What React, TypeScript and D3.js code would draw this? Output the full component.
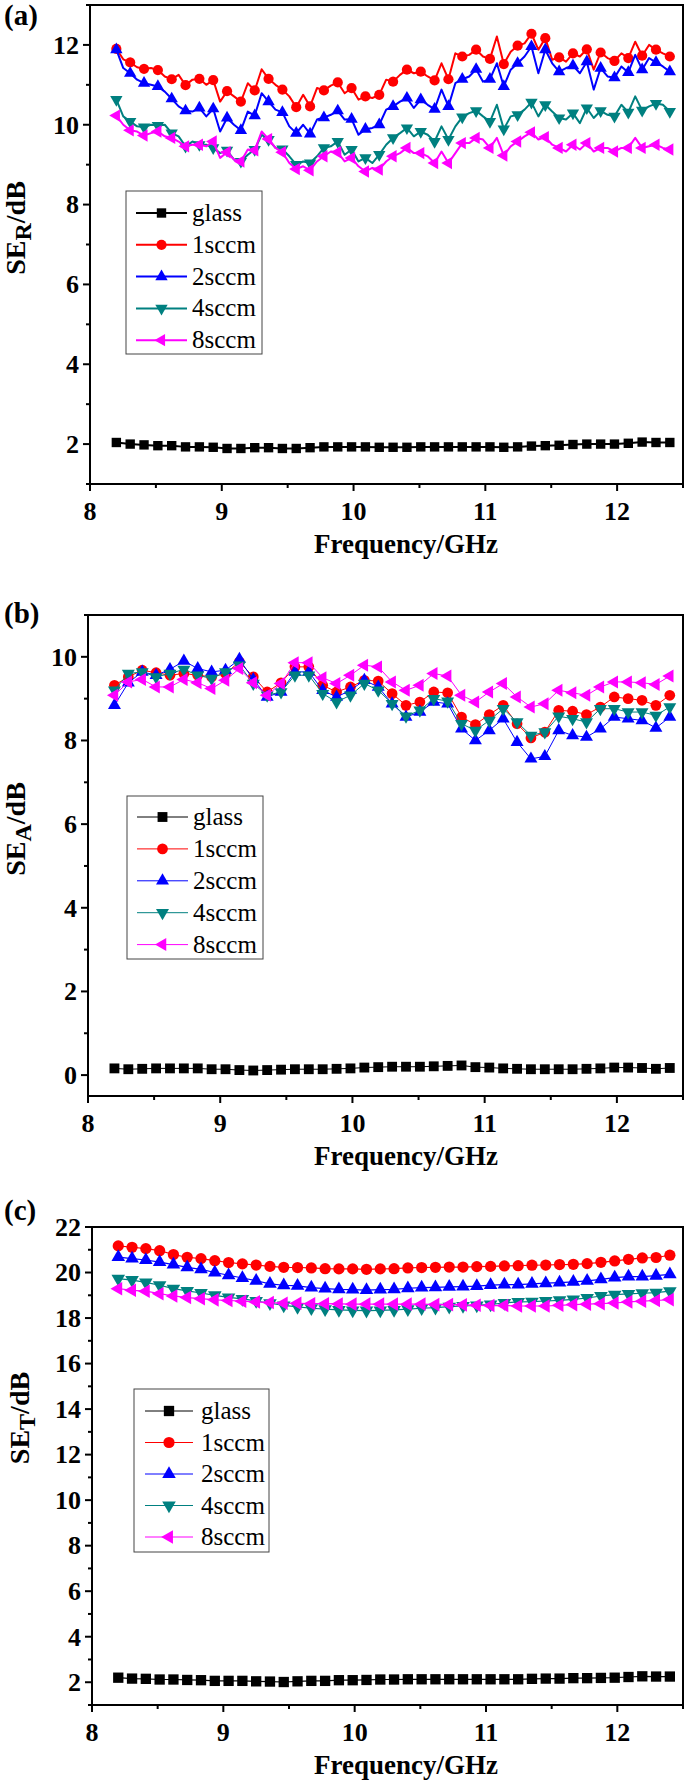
import React from 'react';
import * as d3 from 'd3';

// shared series info
const seriesNames = ['glass', '1sccm', '2sccm', '4sccm', '8sccm'];
const seriesColors = ['#000000', '#ff0000', '#0000ff', '#008080', '#ff00ff'];

// marker frequencies (GHz) and the finer grid used by the (a) lines
const freq = d3.range(41).map((i) => 8.2 + i * 0.105);
const freqFine = d3.range(81).map((i) => 8.2 + i * 0.0525);

const xMajor = [8, 9, 10, 11, 12];
const xMinor = [8.5, 9.5, 10.5, 11.5, 12.5];

// ---- (a) SE_R ----
const seRGlass = [2.04, 2.0, 1.98, 1.96, 1.96, 1.93, 1.93, 1.92, 1.89, 1.89, 1.91, 1.91, 1.89, 1.89, 1.91, 1.93, 1.93, 1.93, 1.93, 1.92, 1.92,
  1.92, 1.93, 1.93, 1.93, 1.93, 1.93, 1.93, 1.92, 1.93, 1.95, 1.96, 1.97, 1.99, 2.0, 2.0, 2.0, 2.02, 2.05, 2.04, 2.04];
const seR1 = [11.9, 11.56, 11.4, 11.37, 11.14, 10.99, 11.15, 11.12, 10.84, 10.58, 10.86, 11.15, 10.88, 10.44, 10.46, 10.86, 11.06, 10.92, 10.71, 10.75, 11.08,
  11.38, 11.33, 11.11, 11.14, 11.71, 11.88, 11.65, 11.52, 11.98, 12.28, 12.17, 11.69, 11.79, 11.89, 11.81, 11.6, 11.67, 11.73, 11.88, 11.71];
const seR1Mid = [11.64, 11.44, 11.42, 11.21, 11.25, 11.13, 11.0, 10.58, 10.71, 11.04, 11.39, 11.0, 10.71, 10.75, 10.92, 10.98, 10.79, 10.63, 10.67, 11.13,
  11.25, 11.29, 11.21, 11.54, 11.79, 11.75, 11.71, 12.21, 11.83, 12.04, 11.88, 11.63, 11.58, 11.71, 11.38, 11.67, 11.79, 12.08, 12.0, 11.79];
const seR2 = [11.88, 11.29, 11.04, 10.96, 10.65, 10.35, 10.42, 10.4, 10.17, 9.86, 10.23, 10.58, 10.31, 9.79, 9.77, 10.18, 10.35, 10.14, 9.89, 10.0, 10.46,
  10.67, 10.63, 10.39, 10.46, 11.14, 11.39, 11.14, 10.96, 11.54, 11.96, 11.88, 11.33, 11.48, 11.58, 11.42, 11.18, 11.31, 11.38, 11.56, 11.33];
const seR2Mid = [11.42, 11.13, 11.0, 10.83, 10.46, 10.33, 10.21, 9.83, 10.0, 10.33, 10.79, 10.38, 9.96, 10.0, 10.13, 10.25, 10.13, 9.75, 9.92, 10.38,
  10.58, 10.42, 10.5, 10.88, 11.04, 11.21, 11.08, 11.54, 11.38, 11.71, 11.29, 11.54, 11.42, 11.29, 10.88, 11.21, 11.46, 11.75, 11.67, 11.46];
const seR4 = [10.63, 10.08, 9.94, 9.98, 9.79, 9.46, 9.5, 9.42, 9.36, 9.08, 9.38, 9.63, 9.39, 9.0, 9.04, 9.42, 9.58, 9.38, 9.17, 9.25, 9.67,
  9.92, 9.83, 9.58, 9.63, 10.19, 10.35, 10.08, 9.89, 10.25, 10.56, 10.5, 10.17, 10.29, 10.42, 10.35, 10.21, 10.31, 10.36, 10.53, 10.33];
const seR4Mid = [10.21, 9.96, 10.0, 10.0, 9.71, 9.58, 9.5, 9.29, 9.13, 9.25, 9.75, 9.42, 9.21, 9.08, 9.21, 9.46, 9.25, 9.08, 9.04, 9.5,
  9.79, 9.71, 9.75, 9.96, 9.96, 10.29, 10.21, 10.5, 10.21, 10.38, 10.21, 10.33, 10.13, 10.04, 10.17, 10.25, 10.5, 10.71, 10.46, 10.5];
const seR8 = [10.23, 9.86, 9.73, 9.83, 9.67, 9.46, 9.5, 9.58, 9.31, 9.08, 9.36, 9.64, 9.31, 8.89, 8.86, 9.21, 9.31, 9.17, 8.83, 8.88, 9.21,
  9.42, 9.29, 9.04, 9.04, 9.54, 9.67, 9.42, 9.23, 9.58, 9.81, 9.69, 9.42, 9.5, 9.54, 9.42, 9.33, 9.42, 9.42, 9.5, 9.38];
const seR8Mid = [10.0, 9.83, 9.79, 9.71, 9.58, 9.5, 9.46, 9.17, 9.13, 9.38, 9.83, 9.42, 9.04, 8.96, 9.08, 9.33, 9.08, 8.96, 8.92, 9.08,
  9.29, 9.29, 9.21, 9.33, 9.29, 9.54, 9.63, 9.67, 9.46, 9.71, 9.63, 9.5, 9.33, 9.38, 9.33, 9.42, 9.42, 9.67, 9.46, 9.42];

// ---- (b) SE_A ----
const seAGlass = [0.16, 0.14, 0.15, 0.16, 0.16, 0.16, 0.16, 0.14, 0.14, 0.12, 0.11, 0.12, 0.13, 0.14, 0.14, 0.14, 0.15, 0.16, 0.18, 0.19, 0.2,
  0.2, 0.2, 0.21, 0.22, 0.23, 0.19, 0.18, 0.16, 0.15, 0.14, 0.14, 0.14, 0.14, 0.15, 0.16, 0.18, 0.18, 0.17, 0.15, 0.17];
const seA1 = [9.32, 9.52, 9.68, 9.62, 9.56, 9.6, 9.56, 9.52, 9.6, 9.88, 9.52, 9.16, 9.38, 9.76, 9.76, 9.32, 9.16, 9.28, 9.44, 9.42, 9.12,
  8.84, 8.92, 9.16, 9.14, 8.56, 8.38, 8.62, 8.84, 8.4, 8.06, 8.2, 8.72, 8.7, 8.62, 8.8, 9.04, 9.0, 8.96, 8.84, 9.08];
const seA2 = [8.84, 9.38, 9.64, 9.56, 9.7, 9.9, 9.72, 9.64, 9.68, 9.94, 9.46, 9.04, 9.16, 9.64, 9.64, 9.2, 9.04, 9.2, 9.44, 9.28, 8.88,
  8.56, 8.68, 8.92, 8.88, 8.28, 8.0, 8.24, 8.52, 7.96, 7.56, 7.62, 8.24, 8.12, 8.08, 8.28, 8.56, 8.52, 8.48, 8.3, 8.56];
const seA4 = [9.2, 9.6, 9.64, 9.52, 9.6, 9.7, 9.56, 9.48, 9.64, 9.8, 9.36, 9.08, 9.16, 9.56, 9.56, 9.12, 8.92, 9.08, 9.36, 9.2, 8.88,
  8.58, 8.72, 9.0, 8.94, 8.4, 8.24, 8.48, 8.76, 8.44, 8.12, 8.2, 8.58, 8.52, 8.44, 8.76, 8.76, 8.68, 8.68, 8.6, 8.8];
const seA8 = [9.08, 9.4, 9.46, 9.28, 9.28, 9.46, 9.38, 9.24, 9.44, 9.72, 9.38, 9.08, 9.36, 9.86, 9.86, 9.5, 9.36, 9.56, 9.8, 9.76, 9.4,
  9.2, 9.32, 9.6, 9.54, 9.08, 8.92, 9.16, 9.36, 9.04, 8.8, 8.88, 9.2, 9.14, 9.08, 9.28, 9.4, 9.4, 9.38, 9.34, 9.54];

// ---- (c) SE_T ----
const seTGlass = [2.2, 2.16, 2.15, 2.12, 2.12, 2.1, 2.09, 2.06, 2.06, 2.06, 2.04, 2.03, 2.01, 2.04, 2.06, 2.06, 2.09, 2.09, 2.1, 2.12, 2.12,
  2.13, 2.13, 2.13, 2.13, 2.13, 2.13, 2.13, 2.13, 2.13, 2.15, 2.16, 2.16, 2.18, 2.18, 2.19, 2.2, 2.23, 2.26, 2.25, 2.25];
const seT1 = [21.17, 21.11, 21.05, 20.96, 20.79, 20.67, 20.61, 20.52, 20.44, 20.38, 20.33, 20.27, 20.23, 20.22, 20.2, 20.17, 20.16, 20.16, 20.14, 20.16, 20.17,
  20.2, 20.22, 20.23, 20.24, 20.24, 20.26, 20.27, 20.29, 20.3, 20.32, 20.33, 20.35, 20.36, 20.39, 20.45, 20.51, 20.58, 20.64, 20.66, 20.76];
const seT2 = [20.68, 20.61, 20.55, 20.46, 20.35, 20.23, 20.14, 20.0, 19.88, 19.76, 19.64, 19.5, 19.44, 19.41, 19.34, 19.29, 19.26, 19.25, 19.23, 19.25, 19.26,
  19.31, 19.34, 19.35, 19.37, 19.38, 19.4, 19.45, 19.47, 19.47, 19.5, 19.53, 19.56, 19.59, 19.63, 19.7, 19.78, 19.82, 19.82, 19.86, 19.92];
const seT4 = [19.73, 19.67, 19.57, 19.44, 19.29, 19.19, 19.1, 19.0, 18.91, 18.84, 18.75, 18.65, 18.56, 18.49, 18.43, 18.39, 18.36, 18.34, 18.33, 18.34, 18.36,
  18.39, 18.43, 18.46, 18.5, 18.53, 18.56, 18.6, 18.66, 18.71, 18.72, 18.75, 18.78, 18.82, 18.88, 18.97, 19.03, 19.06, 19.09, 19.12, 19.18];
const seT8 = [19.29, 19.22, 19.18, 19.07, 18.97, 18.9, 18.85, 18.8, 18.77, 18.74, 18.71, 18.68, 18.65, 18.65, 18.63, 18.63, 18.62, 18.61, 18.61, 18.61, 18.61,
  18.61, 18.61, 18.59, 18.59, 18.58, 18.56, 18.55, 18.55, 18.53, 18.53, 18.53, 18.56, 18.59, 18.61, 18.63, 18.66, 18.71, 18.74, 18.77, 18.81];

// put the between-marker readings in between the marker readings
const weave = (marks, mids) => marks.flatMap((v, i) => (i < mids.length ? [v, mids[i]] : [v]));

const mk = (marks) => ({ lx: freq, ly: marks, marks });
const mkFine = (marks, mids) => ({ lx: freqFine, ly: weave(marks, mids), marks });

const panels = [
  {
    id: 'a', label: '(a)', labelY: 25, sub: 'R',
    yDomain: [1, 13], yMajor: [2, 4, 6, 8, 10, 12], yMinor: [1, 3, 5, 7, 9, 11, 13],
    left: 90, right: 683, top: 5, bottom: 484,
    lineW: 2, legendLineW: 2, mScale: 1,
    titleX: 25, titleY: 228,
    legend: { x: 126, y: 191, w: 136, h: 163, y0: 213, step: 31.8, l1: 136, l2: 187, tx: 192 },
    series: [mk(seRGlass), mkFine(seR1, seR1Mid), mkFine(seR2, seR2Mid), mkFine(seR4, seR4Mid), mkFine(seR8, seR8Mid)],
  },
  {
    id: 'b', label: '(b)', labelY: 623, sub: 'A',
    yDomain: [-0.5, 11], yMajor: [0, 2, 4, 6, 8, 10], yMinor: [1, 3, 5, 7, 9, 11],
    left: 88, right: 683, top: 615, bottom: 1096,
    lineW: 1, legendLineW: 1, mScale: 1.05,
    titleX: 25, titleY: 829,
    legend: { x: 127, y: 796, w: 136, h: 163, y0: 817, step: 31.9, l1: 137, l2: 188, tx: 193 },
    series: [mk(seAGlass), mk(seA1), mk(seA2), mk(seA4), mk(seA8)],
  },
  {
    id: 'c', label: '(c)', labelY: 1220, sub: 'T',
    yDomain: [1, 22], yMajor: [2, 4, 6, 8, 10, 12, 14, 16, 18, 20, 22], yMinor: [1, 3, 5, 7, 9, 11, 13, 15, 17, 19, 21],
    left: 92, right: 683, top: 1227, bottom: 1705,
    lineW: 1.2, legendLineW: 1, mScale: 1.1,
    titleX: 29, titleY: 1418,
    legend: { x: 134, y: 1389, w: 135, h: 163, y0: 1411, step: 31.5, l1: 145, l2: 193, tx: 201 },
    series: [mk(seTGlass), mk(seT1), mk(seT2), mk(seT4), mk(seT8)],
  },
];

const symbolTypes = [d3.symbolSquare, d3.symbolCircle, d3.symbolTriangle, d3.symbolTriangle, d3.symbolTriangle];
const symbolRot = [0, 0, 0, 180, -90];
const symbolArea = [88, 82, 66, 66, 66];

const markerD = (k, s) => d3.symbol(symbolTypes[k], symbolArea[k] * s * s)();

function Marker({ k, x, y, s }) {
  return (
    <path d={markerD(k, s)} transform={`translate(${x},${y}) rotate(${symbolRot[k]})`} fill={seriesColors[k]} />
  );
}

function Panel({ p }) {
  const x = d3.scaleLinear().domain([8, 12.5]).range([p.left, p.right]);
  const y = d3.scaleLinear().domain(p.yDomain).range([p.bottom, p.top]);
  const line = d3.line().x((d) => x(d[0])).y((d) => y(d[1]));
  const lg = p.legend;

  return (
    <g>
      {/* data */}
      {p.series.map((s, k) => (
        <g key={k}>
          <path d={line(s.lx.map((f, i) => [f, s.ly[i]]))} fill="none" stroke={seriesColors[k]} strokeWidth={p.lineW} strokeLinejoin="round" />
          {s.marks.map((v, i) => (
            <Marker key={i} k={k} x={x(freq[i])} y={y(v)} s={p.mScale} />
          ))}
        </g>
      ))}

      {/* frame */}
      <rect x={p.left} y={p.top} width={p.right - p.left} height={p.bottom - p.top} fill="none" stroke="#000" strokeWidth={2} />

      {/* x axis */}
      {xMajor.map((t) => (
        <g key={'xm' + t}>
          <line x1={x(t)} x2={x(t)} y1={p.bottom} y2={p.bottom + 7} stroke="#000" strokeWidth={2} />
          <text x={x(t)} y={p.bottom + 36} textAnchor="middle" fontSize={26} fontWeight="bold">{t}</text>
        </g>
      ))}
      {xMinor.map((t) => (
        <line key={'xn' + t} x1={x(t)} x2={x(t)} y1={p.bottom} y2={p.bottom + 4} stroke="#000" strokeWidth={2} />
      ))}
      <text x={406} y={p.bottom + 69} textAnchor="middle" fontSize={27} fontWeight="bold">Frequency/GHz</text>

      {/* y axis */}
      {p.yMajor.map((t) => (
        <g key={'ym' + t}>
          <line x1={p.left - 7} x2={p.left} y1={y(t)} y2={y(t)} stroke="#000" strokeWidth={2} />
          <text x={p.left - 11} y={y(t) + 8.8} textAnchor="end" fontSize={26} fontWeight="bold">{t}</text>
        </g>
      ))}
      {p.yMinor.map((t) => (
        <line key={'yn' + t} x1={p.left - 4} x2={p.left} y1={y(t)} y2={y(t)} stroke="#000" strokeWidth={2} />
      ))}
      <text transform={`translate(${p.titleX},${p.titleY}) rotate(-90)`} textAnchor="middle" fontSize={28} fontWeight="bold">
        <tspan>SE</tspan>
        <tspan dy={6} fontSize={24}>{p.sub}</tspan>
        <tspan dy={-6}>/dB</tspan>
      </text>

      {/* panel tag */}
      <text x={4} y={p.labelY} fontSize={29} fontWeight="bold">{p.label}</text>

      {/* legend */}
      <rect x={lg.x} y={lg.y} width={lg.w} height={lg.h} fill="#fff" stroke="#444" strokeWidth={1} />
      {seriesNames.map((name, k) => {
        const ey = lg.y0 + k * lg.step;
        return (
          <g key={name}>
            <line x1={lg.l1} x2={lg.l2} y1={ey} y2={ey} stroke={seriesColors[k]} strokeWidth={p.legendLineW} />
            <Marker k={k} x={(lg.l1 + lg.l2) / 2} y={ey} s={p.mScale} />
            <text x={lg.tx} y={ey + 8} fontSize={25}>{name}</text>
          </g>
        );
      })}
    </g>
  );
}

export default function App() {
  return (
    <div style={{ position: 'absolute', left: 0, top: 0 }}>
      <svg width={685} height={1785} style={{ display: 'block', background: '#fff' }}
        fontFamily="'Liberation Serif', 'Times New Roman', serif">
        {panels.map((p) => (
          <Panel key={p.id} p={p} />
        ))}
      </svg>
    </div>
  );
}
